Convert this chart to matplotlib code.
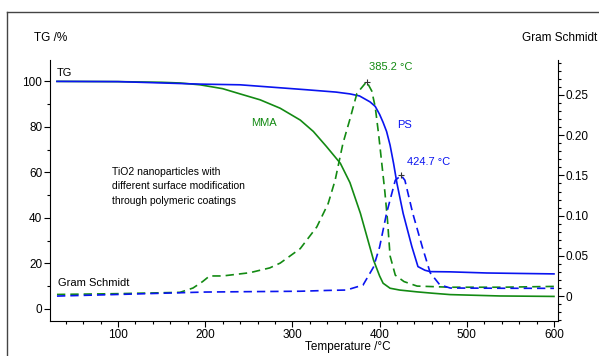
import matplotlib
matplotlib.use("Agg")
import matplotlib.pyplot as plt
from matplotlib.ticker import MultipleLocator
from matplotlib.lines import Line2D

plt.rcParams['font.family'] = ['Liberation Sans', 'DejaVu Sans']

# -----------------------------
# Data
# -----------------------------
mma_tg_t = [30, 100, 150, 171, 194, 220, 240, 263, 286, 309, 324, 339, 355, 366,
            378, 393, 400, 404, 412, 423, 443, 461, 481, 500, 538, 570, 600]
mma_tg = [100, 99.9, 99.6, 99.3, 98.5, 96.8, 94.5, 91.9, 88.2, 83, 78, 71.4, 64, 55.5,
          42, 21.5, 14.5, 11.3, 9.1, 8.3, 7.5, 6.9, 6.3, 6.1, 5.7, 5.6, 5.5]

ps_tg_t = [30, 100, 194, 240, 317, 350, 366, 377, 389, 395, 400, 404, 408, 412,
           416, 420, 427, 437, 444, 452, 458, 481, 523, 560, 600]
ps_tg = [100, 99.9, 98.8, 98.5, 96.3, 95.3, 94.5, 93.6, 91, 89, 85.5, 82, 78, 72,
         64, 55, 42, 27.4, 18.6, 17, 16.4, 16.3, 15.8, 15.6, 15.4]

mma_gs_t = [30, 100, 171, 186, 197, 205, 220, 251, 274, 286, 309, 328, 341,
            349, 358, 366, 374, 385.2, 391, 395, 399, 403, 406, 409, 412, 418, 428,
            443, 481, 540, 600]
mma_gs = [0.002, 0.003, 0.0046, 0.01, 0.018, 0.025, 0.025, 0.029, 0.035, 0.041,
          0.059, 0.086, 0.115, 0.144, 0.19, 0.22, 0.252, 0.2666, 0.255,
          0.235, 0.2, 0.16, 0.13, 0.095, 0.05, 0.026, 0.018, 0.0124, 0.011, 0.011, 0.012]

ps_gs_t = [30, 100, 200, 251, 309, 340, 362, 381, 393, 400, 408, 418, 424.7, 429,
           438, 449, 458, 469, 481, 540, 600]
ps_gs = [0.0, 0.002, 0.005, 0.0055, 0.006, 0.007, 0.0075, 0.0137, 0.036, 0.061, 0.103,
         0.144, 0.15, 0.144, 0.103, 0.061, 0.029, 0.014, 0.01, 0.0097, 0.0096]

peak_t = [385.2, 424.7]
peak_gs = [0.2666, 0.15]
peak_labels = ["385.2 °C", "424.7 °C"]

GREEN = "#138a13"
BLUE = "#0a14f0"

# -----------------------------
# Figure
# -----------------------------
fig = plt.figure(figsize=(5.99, 3.56), dpi=100)
ax = fig.add_axes([50 / 599, 1 - 321 / 356, 508 / 599, 261 / 356])
ax2 = ax.twinx()

ax.plot(mma_tg_t, mma_tg, color=GREEN, lw=1.2)
ax.plot(ps_tg_t, ps_tg, color=BLUE, lw=1.2)
ax2.plot(mma_gs_t, mma_gs, color=GREEN, lw=1.2, ls=(0, (5, 3)))
ax2.plot(ps_gs_t, ps_gs, color=BLUE, lw=1.2, ls=(0, (5, 3)))
ax2.plot(peak_t[0], peak_gs[0], marker="+", color="#333333", ms=4, mew=0.8)
ax2.plot(peak_t[1], peak_gs[1], marker="+", color="#333333", ms=4, mew=0.8)

ax.set_xlim(22, 604.6)
ax.set_ylim(-5.3, 109.4)
ax2.set_ylim(-0.031, 0.2935)

ax.xaxis.set_major_locator(MultipleLocator(100))
ax.xaxis.set_minor_locator(MultipleLocator(20))
ax.yaxis.set_major_locator(MultipleLocator(20))
ax.yaxis.set_minor_locator(MultipleLocator(10))
ax2.yaxis.set_major_locator(MultipleLocator(0.05))
ax2.yaxis.set_minor_locator(MultipleLocator(0.01))
ax2.yaxis.set_major_formatter(plt.FuncFormatter(lambda v, p: "0" if abs(v) < 1e-9 else f"{v:.2f}"))

for a in (ax, ax2):
    a.spines["top"].set_visible(False)
    a.tick_params(which="major", length=4, width=0.8, labelsize=8.5, pad=1.5)
    a.tick_params(which="minor", length=2, width=0.8)
ax.spines["right"].set_visible(False)
ax2.spines["left"].set_visible(False)
ax2.spines["bottom"].set_visible(False)

# texts
fig.text(34 / 599, 1 - 38 / 356, "TG /%", fontsize=8.5, va="center", ha="left")
fig.text(597 / 599, 1 - 38 / 356, "Gram Schmidt", fontsize=8.5, va="center", ha="right")
fig.text(305 / 599, 1 - 347 / 356, "Temperature /°C", fontsize=8.5, va="center", ha="left")

fig.text(57 / 599, 1 - 73 / 356, "TG", fontsize=8, va="center")
fig.text(58 / 599, 1 - 283 / 356, "Gram Schmidt", fontsize=8, va="center")
fig.text(251 / 599, 1 - 123 / 356, "MMA", fontsize=8, color=GREEN, va="center")
fig.text(397 / 599, 1 - 125 / 356, "PS", fontsize=8, color=BLUE, va="center")
fig.text(369 / 599, 1 - 67 / 356, peak_labels[0], fontsize=8, color=GREEN, va="center")
fig.text(407 / 599, 1 - 162 / 356, peak_labels[1], fontsize=8, color=BLUE, va="center")
fig.text(112 / 599, 1 - 167 / 356,
         "TiO2 nanoparticles with\ndifferent surface modification\nthrough polymeric coatings",
         fontsize=7.5, va="top", linespacing=1.55)

# outer frame
fig.add_artist(Line2D([7 / 599, 1], [1 - 12 / 356, 1 - 12 / 356], color="#444444", lw=1))
fig.add_artist(Line2D([7 / 599, 7 / 599], [0, 1 - 12 / 356], color="#444444", lw=1))

fig.savefig("out.png", dpi=100)
